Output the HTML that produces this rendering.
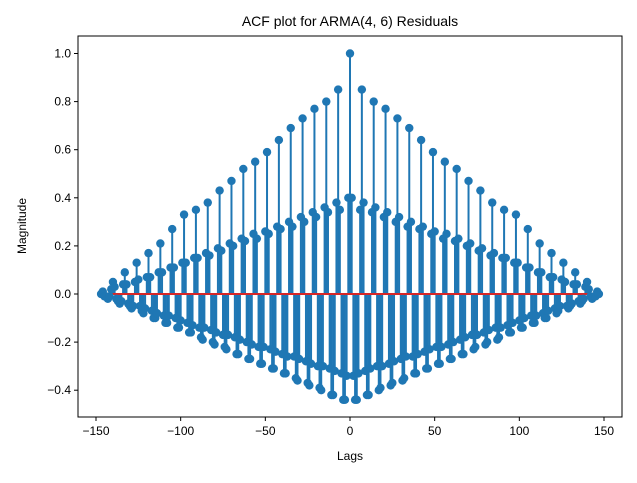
<!DOCTYPE html>
<html><head><meta charset="utf-8"><style>
body{margin:0;background:#fff;}
svg text{font-family:"Liberation Sans",sans-serif;fill:#000;}
</style></head><body>
<svg id="chart" width="637" height="478" viewBox="0 0 637 478" xmlns="http://www.w3.org/2000/svg">
<rect width="637" height="478" fill="#fff"/>
<text x="350" y="26" font-size="14" text-anchor="middle">ACF plot for ARMA(4, 6) Residuals</text>
<text x="350" y="460" font-size="12" text-anchor="middle">Lags</text>
<text x="26" y="226" font-size="12" text-anchor="middle" transform="rotate(-90 26 226)">Magnitude</text>
<g id="marks"></g>
<g id="axes"></g>
</svg>
<script>
const acfValues = [
1.00,.40,-.34,-.44,-.44,-.33,.35,
.85,.38,-.32,-.42,-.42,-.31,.34,
.80,.36,-.30,-.40,-.39,-.30,.32,
.77,.34,-.29,-.38,-.37,-.28,.30,
.73,.32,-.27,-.36,-.35,-.26,.28,
.69,.30,-.26,-.33,-.33,-.25,.27,
.64,.28,-.24,-.31,-.31,-.23,.25,
.59,.26,-.22,-.29,-.29,-.22,.23,
.55,.25,-.21,-.27,-.27,-.20,.22,
.52,.23,-.19,-.25,-.25,-.18,.20,
.47,.21,-.17,-.23,-.22,-.17,.18,
.43,.19,-.16,-.21,-.20,-.15,.16,
.38,.17,-.14,-.19,-.18,-.14,.15,
.35,.15,-.13,-.16,-.16,-.12,.13,
.33,.13,-.11,-.14,-.14,-.10,.11,
.27,.11,-.09,-.12,-.12,-.09,.09,
.21,.09,-.08,-.10,-.10,-.07,.07,
.17,.07,-.06,-.08,-.07,-.05,.06,
.13,.05,-.05,-.06,-.05,-.04,.04,
.09,.04,-.03,-.04,-.03,-.02,.03,
.05,.02,-.01,-.02,-.01,-.01,.01,
.00];
const xTicks = [-150,-100,-50,0,50,100,150];
const yTicks = [-0.4,-0.2,0.0,0.2,0.4,0.6,0.8,1.0];
const xTickLabels = ["\u2212150","\u2212100","\u221250","0","50","100","150"];
const yTickLabels = ["\u22120.4","\u22120.2","0.0","0.2","0.4","0.6","0.8","1.0"];

const NS="http://www.w3.org/2000/svg";
const L=78,R=622,T=36,B=417;
const maxLag=acfValues.length-1;
const xmin=-maxLag*1.1, xmax=maxLag*1.1;
const xs=v=>350+v*1.6933;
const ys=v=>294-v*240.5;
function mk(tag,attrs,parent){const e=document.createElementNS(NS,tag);for(const k in attrs)e.setAttribute(k,attrs[k]);parent.appendChild(e);return e;}
const marks=document.getElementById('marks');
const axes=document.getElementById('axes');
const lags=[],vals=[];
for(let k=-maxLag;k<=maxLag;k++){lags.push(k);vals.push(acfValues[Math.abs(k)]);}
lags.forEach((k,i)=>{
  const ln=mk('line',{x1:xs(k),x2:xs(k),y1:ys(0),y2:ys(vals[i]),stroke:'#1f77b4','stroke-width':2},marks);
  
  
});
const base=mk('line',{x1:xs(-maxLag),x2:xs(maxLag),y1:ys(0),y2:ys(0),stroke:'#d62728','stroke-width':2},marks);


lags.forEach((k,i)=>{
  const c=mk('circle',{cx:xs(k),cy:ys(vals[i]),r:4.2,fill:'#1f77b4'},marks);
  
  
});
const frame=mk('rect',{x:L,y:T,width:R-L,height:B-T,fill:'none',stroke:'#000','stroke-width':1},axes);


xTicks.forEach((t,i)=>{
  const x=xs(t);
  const tk=mk('line',{x1:x,x2:x,y1:B,y2:B+4,stroke:'#000'},axes);
  
  
  const tx=mk('text',{x:x,y:B+18,'font-size':12,'text-anchor':'middle'},axes);
  tx.textContent=xTickLabels[i];
  
  
});
yTicks.forEach((t,i)=>{
  const y=ys(t);
  const tk=mk('line',{x1:L-4,x2:L,y1:y,y2:y,stroke:'#000'},axes);
  
  
  const tx=mk('text',{x:L-7,y:y+4,'font-size':12,'text-anchor':'end'},axes);
  tx.textContent=yTickLabels[i];
  
  
});
</script>
</body></html>
